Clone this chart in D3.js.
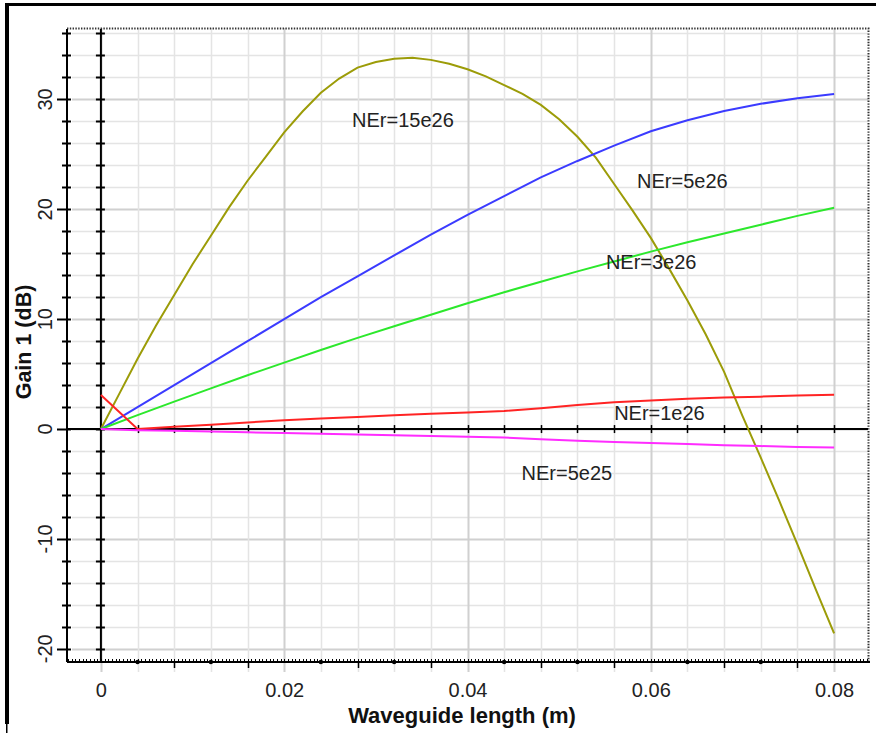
<!DOCTYPE html>
<html>
<head>
<meta charset="utf-8">
<script src="https://cdn.jsdelivr.net/npm/d3@7"></script>
<style>
  html, body { margin: 0; padding: 0; background: #fff; }
  svg { display: block; font-family: "Liberation Sans", Arial, sans-serif; }
</style>
</head>
<body>
<svg id="chart" width="876" height="733"></svg>
<script>
// Waveguide length samples (m)
const lengthCoarse = [0, 0.004, 0.008, 0.012, 0.016, 0.020, 0.024, 0.028, 0.032, 0.036, 0.040,
                      0.044, 0.048, 0.052, 0.056, 0.060, 0.064, 0.068, 0.072, 0.076, 0.080];
const lengthFine = [0, 0.002, 0.004, 0.006, 0.008, 0.010, 0.012, 0.014, 0.016, 0.018, 0.020,
                    0.022, 0.024, 0.026, 0.028, 0.030, 0.032, 0.034, 0.036, 0.038, 0.040,
                    0.042, 0.044, 0.046, 0.048, 0.050, 0.052, 0.054, 0.056, 0.058, 0.060,
                    0.062, 0.064, 0.066, 0.068, 0.070, 0.072, 0.074, 0.076, 0.078, 0.080];

// Gain 1 (dB) for each erbium concentration
const gain15e26 = [0, 3.2, 6.4, 9.4, 12.2, 15.0, 17.6, 20.2, 22.6, 24.8, 27.0,
                   28.9, 30.6, 31.9, 32.9, 33.4, 33.7, 33.8, 33.6, 33.25, 32.75,
                   32.1, 31.3, 30.5, 29.5, 28.2, 26.6, 24.7, 22.3, 19.9, 17.4,
                   14.6, 11.7, 8.6, 5.2, 1.2, -2.6, -6.5, -10.5, -14.6, -18.6];
const gain5e26 = [0, 2.0, 4.0, 6.0, 8.0, 10.0, 12.0, 13.9, 15.8, 17.7, 19.5,
                  21.2, 22.9, 24.4, 25.8, 27.1, 28.1, 28.95, 29.6, 30.1, 30.5];
const gain3e26 = [0, 1.27, 2.5, 3.7, 4.9, 6.05, 7.2, 8.3, 9.35, 10.4, 11.45,
                  12.45, 13.4, 14.35, 15.25, 16.15, 17.0, 17.8, 18.6, 19.4, 20.15];
const gain1e26 = [3.1, 0.0, 0.2, 0.4, 0.6, 0.8, 0.95, 1.1, 1.25, 1.4, 1.5,
                  1.65, 1.9, 2.2, 2.45, 2.6, 2.75, 2.87, 2.95, 3.05, 3.12];
const gain5e25 = [0, -0.1, -0.15, -0.22, -0.3, -0.37, -0.43, -0.5, -0.57, -0.63, -0.7,
                  -0.77, -0.92, -1.06, -1.17, -1.27, -1.37, -1.47, -1.55, -1.63, -1.68];

const seriesNames = ["NEr=15e26", "NEr=5e26", "NEr=3e26", "NEr=1e26", "NEr=5e25"];
const xTickValues = [0, 0.02, 0.04, 0.06, 0.08];
const yTickValues = [-20, -10, 0, 10, 20, 30];

const series = [
  { name: seriesNames[0], xs: lengthFine,   ys: gain15e26, color: "#9c9c08" },
  { name: seriesNames[1], xs: lengthCoarse, ys: gain5e26,  color: "#3b3bff" },
  { name: seriesNames[2], xs: lengthCoarse, ys: gain3e26,  color: "#2ce82c" },
  { name: seriesNames[3], xs: lengthCoarse, ys: gain1e26,  color: "#ff2424" },
  { name: seriesNames[4], xs: lengthCoarse, ys: gain5e25,  color: "#ff2cff" }
];

const svg = d3.select("#chart");
const plotLeft = 67, plotRight = 868, plotTop = 28, plotBottom = 662;

const x = d3.scaleLinear().domain([-0.0037, 0.0837]).range([plotLeft, plotRight]);
const y = d3.scaleLinear().domain([-21.2, 36.5]).range([plotBottom, plotTop]);

// window frame
svg.append("rect").attr("x", 5).attr("y", 3).attr("width", 871).attr("height", 3).attr("fill", "#000");
svg.append("rect").attr("x", 5).attr("y", 3).attr("width", 4).attr("height", 721).attr("fill", "#000");
svg.append("rect").attr("x", 6).attr("y", 724).attr("width", 1.5).attr("height", 9).attr("fill", "#000");

// grid
const minorX = d3.range(0, 21).map(k => k * 0.004);
const gridY = d3.range(-20, 37, 2);

svg.append("g").selectAll("line").data(gridY).join("line")
  .attr("x1", plotLeft + 5).attr("x2", plotRight)
  .attr("y1", d => Math.round(y(d)) + 0.5).attr("y2", d => Math.round(y(d)) + 0.5)
  .attr("stroke", d => d % 10 === 0 ? "#d0d0d0" : "#e4e4e4")
  .attr("stroke-width", d => d % 10 === 0 ? 2 : 1.5);

svg.append("g").selectAll("line").data(minorX).join("line")
  .attr("x1", d => Math.round(x(d)) + 0.5).attr("x2", d => Math.round(x(d)) + 0.5)
  .attr("y1", plotTop).attr("y2", plotBottom + 10)
  .attr("stroke", (d, i) => i % 5 === 0 ? "#d0d0d0" : "#e4e4e4")
  .attr("stroke-width", (d, i) => i % 5 === 0 ? 2 : 1.5);

// dotted plot border (top and right)
svg.append("path")
  .attr("d", `M${plotLeft},${plotTop + 0.5} H${plotRight + 0.5} V${plotBottom}`)
  .attr("fill", "none").attr("stroke", "#333").attr("stroke-width", 2)
  .attr("stroke-dasharray", "1.4,1.4");

// bottom axis
const axisG = svg.append("g");
axisG.append("line").attr("x1", plotLeft).attr("x2", plotRight + 2)
  .attr("y1", plotBottom).attr("y2", plotBottom).attr("stroke", "#000").attr("stroke-width", 2);
const fineTicks = d3.range(-9, 210).map(k => k * 0.0004);
axisG.selectAll("line.fine").data(fineTicks).join("line").attr("class", "fine")
  .attr("x1", d => Math.round(x(d)) + 0.5).attr("x2", d => Math.round(x(d)) + 0.5)
  .attr("y1", plotBottom - 3).attr("y2", plotBottom)
  .attr("stroke", "#000").attr("stroke-width", 1);
const midX = minorX.filter((d, i) => i % 5 !== 0);
axisG.selectAll("circle").data(midX.filter((d, i) => i % 2 === 0)).join("circle")
  .attr("cx", d => x(d)).attr("cy", plotBottom).attr("r", 2.2).attr("fill", "#000");
axisG.selectAll("line.mid").data(midX.filter((d, i) => i % 2 === 1)).join("line").attr("class", "mid")
  .attr("x1", d => Math.round(x(d)) + 0.5).attr("x2", d => Math.round(x(d)) + 0.5)
  .attr("y1", plotBottom).attr("y2", plotBottom + 6)
  .attr("stroke", "#000").attr("stroke-width", 1.5);

const xAxis = d3.axisBottom(x).tickValues(xTickValues).tickSize(0).tickPadding(0)
  .tickFormat(d => d === 0 ? "0" : d3.format(".2f")(d));
svg.append("g").attr("transform", `translate(0,${plotBottom})`).call(xAxis)
  .call(g => g.select(".domain").remove())
  .call(g => g.selectAll("text").attr("y", 35).attr("dy", 0)
    .attr("font-size", 20).attr("font-family", "'Liberation Sans', Arial, sans-serif")
    .attr("fill", "#222"));

// zero line with ticks
svg.append("line").attr("x1", plotLeft).attr("x2", plotRight)
  .attr("y1", y(0)).attr("y2", y(0)).attr("stroke", "#000").attr("stroke-width", 2);
svg.append("g").selectAll("line").data(minorX.slice(1)).join("line")
  .attr("x1", d => Math.round(x(d)) + 0.5).attr("x2", d => Math.round(x(d)) + 0.5)
  .attr("y1", y(0) - 4).attr("y2", y(0) + 4)
  .attr("stroke", "#000").attr("stroke-width", 1.5);

// twin vertical axes: frame edge and x = 0
const axisXs = [plotLeft, x(0)];
axisXs.forEach((ax, idx) => {
  svg.append("line").attr("x1", ax).attr("x2", ax).attr("y1", y(36.4)).attr("y2", plotBottom)
    .attr("stroke", "#000").attr("stroke-width", 2);
  svg.append("g").selectAll("line").data(gridY).join("line")
    .attr("x1", d => ax - (idx === 0 && d % 10 === 0 ? 10 : 5)).attr("x2", ax + 4)
    .attr("y1", d => Math.round(y(d)) + 0.5).attr("y2", d => Math.round(y(d)) + 0.5)
    .attr("stroke", "#000").attr("stroke-width", 2);
});

// y tick labels, rotated
svg.append("g").selectAll("text").data(yTickValues).join("text")
  .attr("transform", d => `translate(52,${y(d)}) rotate(-90)`)
  .attr("text-anchor", "middle").attr("font-size", 20).attr("fill", "#222")
  .text(d => d);

// axis titles
svg.append("text").attr("x", 462).attr("y", 723).attr("text-anchor", "middle")
  .attr("font-size", 22).attr("font-weight", "bold").attr("fill", "#111")
  .text("Waveguide length (m)");
svg.append("text").attr("transform", "translate(31,342) rotate(-90)")
  .attr("text-anchor", "middle").attr("font-size", 21.5).attr("font-weight", "bold").attr("fill", "#111")
  .text("Gain 1 (dB)");

// curves
const line = d3.line().x(d => x(d[0])).y(d => y(d[1]));
svg.append("g").selectAll("path").data(series).join("path")
  .attr("d", s => line(s.xs.map((v, i) => [v, s.ys[i]])))
  .attr("fill", "none").attr("stroke", s => s.color).attr("stroke-width", 2);

// curve annotations (anchored in data units)
const labelAnchors = [[0.0274, 27.5], [0.0585, 21.9], [0.0551, 14.6], [0.0560, 0.8], [0.0459, -4.6]];
svg.append("g").selectAll("text").data(series).join("text")
  .attr("x", (s, i) => x(labelAnchors[i][0])).attr("y", (s, i) => y(labelAnchors[i][1]))
  .attr("font-size", 20).attr("fill", "#222")
  .text(s => s.name);
</script>
</body>
</html>
